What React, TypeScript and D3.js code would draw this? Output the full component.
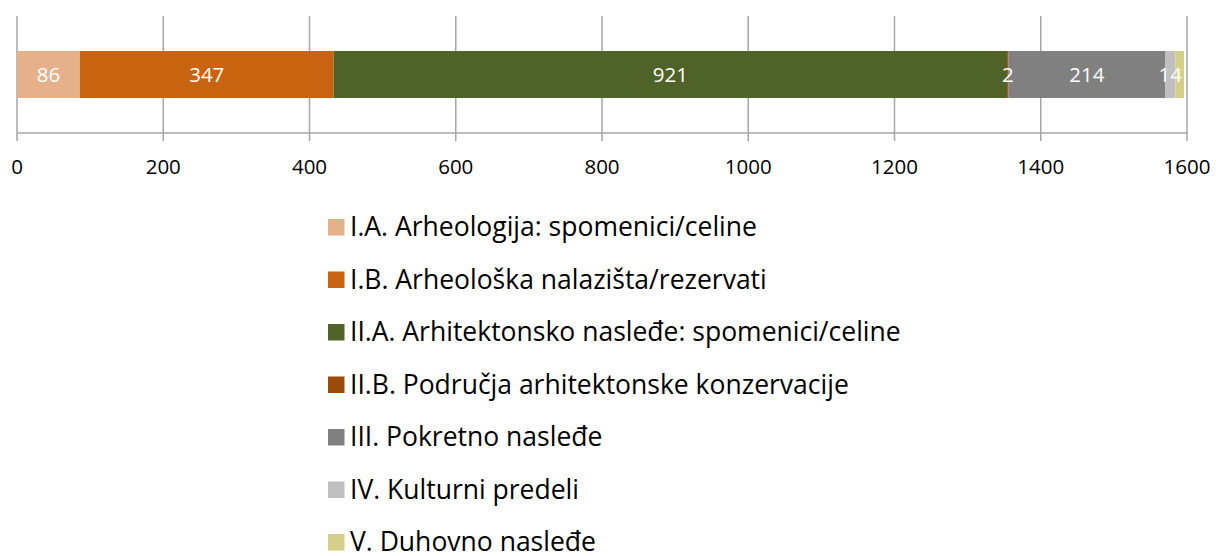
import React from "react";
import * as d3 from "d3";

const categories = [
  "I.A. Arheologija: spomenici/celine",
  "I.B. Arheološka nalazišta/rezervati",
  "II.A. Arhitektonsko nasleđe: spomenici/celine",
  "II.B. Područja arhitektonske konzervacije",
  "III. Pokretno nasleđe",
  "IV. Kulturni predeli",
  "V. Duhovno nasleđe",
];
const values = [86, 347, 921, 2, 214, 14, 12];
const showLabel = [true, true, true, true, true, true, false];
const colors = ["#E6B08A", "#C8640F", "#4F6228", "#9C4A0A", "#808080", "#BFBFBF", "#D4D08A"];
const ticks = [0, 200, 400, 600, 800, 1000, 1200, 1400, 1600];

export default function App() {
  const W = 1216, H = 556;
  const x = d3.scaleLinear().domain([0, 1600]).range([17, 1187]);
  const font = "'Open Sans', sans-serif";
  let acc = 0;
  const segs = values.map((v, i) => {
    const s = { x0: acc, x1: acc + v, v, i };
    acc += v;
    return s;
  });
  const barY = 51, barH = 47, axisY = 133;
  return (
    <svg width={W} height={H} style={{ position: "absolute", left: 0, top: 0 }} fontFamily={font}>
      {ticks.map((t) => (
        <line key={"g" + t} x1={x(t)} x2={x(t)} y1={16} y2={141} stroke="#a6a6a6" strokeWidth={1.5} />
      ))}
      {segs.map((s) => (
        <rect key={"r" + s.i} x={x(s.x0)} y={barY} width={x(s.x1) - x(s.x0)} height={barH} fill={colors[s.i]} />
      ))}
      {segs.map((s) =>
        showLabel[s.i] ? (
          <text key={"l" + s.i} x={(x(s.x0) + x(s.x1)) / 2} y={barY + barH / 2} dy="0.35em" textAnchor="middle" fill="#fff" fontSize={20.5}>
            {s.v}
          </text>
        ) : null
      )}
      <line x1={x(0)} x2={x(1600)} y1={axisY} y2={axisY} stroke="#a6a6a6" strokeWidth={1.5} />
      {ticks.map((t) => (
        <text key={"t" + t} x={x(t)} y={167} dy="0.35em" textAnchor="middle" fill="#000" fontSize={20.5}>
          {t}
        </text>
      ))}
      {categories.map((c, i) => (
        <g key={"lg" + i} transform={`translate(328, ${227 + i * 52.5})`}>
          <rect x={0} y={-8} width={16.5} height={16.5} fill={colors[i]} />
          <text x={22} y={0} dy="0.35em" fontSize={26.5} fill="#000">
            {c}
          </text>
        </g>
      ))}
    </svg>
  );
}
